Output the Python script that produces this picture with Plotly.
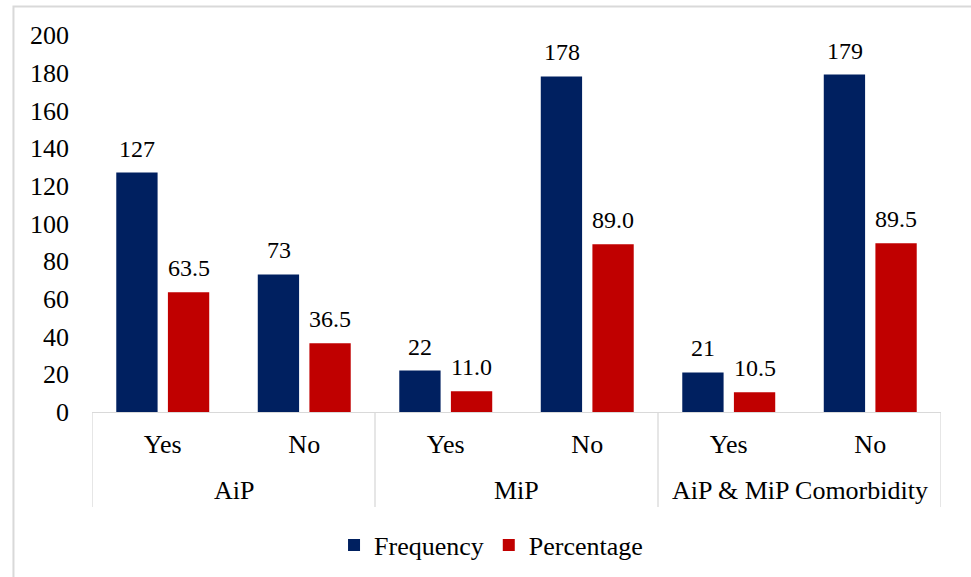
import plotly.graph_objects as go

groups = ["AiP", "AiP", "MiP", "MiP", "AiP & MiP Comorbidity", "AiP & MiP Comorbidity"]
answers = ["Yes", "No", "Yes", "No", "Yes", "No"]
frequency = [127, 73, 22, 178, 21, 179]
percentage = [63.5, 36.5, 11.0, 89.0, 10.5, 89.5]
y_ticks = [0, 20, 40, 60, 80, 100, 120, 140, 160, 180, 200]

FONT = '"Liberation Serif", "Times New Roman", Times, serif'
GRID = "#D9D9D9"
NAVY = "#002060"
RED = "#C00000"
AXIS_SIZE = 26
LABEL_SIZE = 24

cats = [f"{g} | {a}" for g, a in zip(groups, answers)]

fig = go.Figure()
fig.add_trace(go.Bar(x=cats, y=frequency, name="Frequency",
                     marker=dict(color=NAVY, line=dict(width=0))))
fig.add_trace(go.Bar(x=cats, y=percentage, name="Percentage",
                     marker=dict(color=RED, line=dict(width=0))))

annotations = []
# data labels
for c, v in zip(cats, frequency):
    annotations.append(dict(x=c, y=v, xref="x", yref="y", text=f"{v:d}", showarrow=False,
                            xanchor="center", yanchor="bottom", xshift=-25.5, yshift=9,
                            font=dict(family=FONT, size=LABEL_SIZE, color="#000000")))
for c, v in zip(cats, percentage):
    annotations.append(dict(x=c, y=v, xref="x", yref="y", text=f"{v:.1f}", showarrow=False,
                            xanchor="center", yanchor="bottom", xshift=26, yshift=9,
                            font=dict(family=FONT, size=LABEL_SIZE, color="#000000")))

# group labels and dividers
shapes = []
unique_groups = []
for g in groups:
    if g not in unique_groups:
        unique_groups.append(g)
bounds = []
for g in unique_groups:
    idx = [i for i, gg in enumerate(groups) if gg == g]
    lo, hi = min(idx) - 0.5, max(idx) + 0.5
    bounds.append((lo, hi))
    annotations.append(dict(x=(lo + hi) / 2, y=-0.2095, xref="x", yref="paper", text=g,
                            showarrow=False, xanchor="center", yanchor="middle",
                            font=dict(family=FONT, size=AXIS_SIZE, color="#000000")))
edges = sorted(set([b[0] for b in bounds] + [b[1] for b in bounds]))
for e in edges:
    shapes.append(dict(type="line", xref="x", yref="paper", x0=e, x1=e, y0=0, y1=-0.252,
                       line=dict(color=GRID, width=1.3)))

# outer chart border
shapes.append(dict(type="rect", xref="paper", yref="paper", x0=-0.0925, x1=1.06, y0=-0.47, y1=1.0756,
                   line=dict(color=GRID, width=2), fillcolor="rgba(0,0,0,0)", layer="below"))

fig.update_layout(
    width=971, height=577,
    margin=dict(l=92, r=30, t=35, b=165, autoexpand=False),
    paper_bgcolor="white", plot_bgcolor="white",
    font=dict(family=FONT, size=AXIS_SIZE, color="#000000"),
    barmode="group", bargap=0.27, bargroupgap=0.2,
    showlegend=True,
    legend=dict(orientation="h", x=0.47, xanchor="center", y=-0.353, yanchor="middle",
                font=dict(family=FONT, size=AXIS_SIZE, color="#000000"), itemwidth=30,
                traceorder="normal"),
    xaxis=dict(type="category", tickvals=cats, ticktext=answers, range=[-0.5, len(cats) - 0.5],
               showline=True, linecolor=GRID, linewidth=1.3, showgrid=False, zeroline=False,
               ticks="", ticklabelstandoff=9, automargin=False,
               tickfont=dict(family=FONT, size=AXIS_SIZE, color="#000000")),
    yaxis=dict(range=[0, 200], tickvals=y_ticks, showgrid=False, zeroline=False,
               showline=False, ticks="", ticklabelstandoff=22, automargin=False,
               tickfont=dict(family=FONT, size=AXIS_SIZE, color="#000000")),
    shapes=shapes,
    annotations=annotations,
)

fig.write_html("out.html", config={"displayModeBar": False},
               post_script="document.body.style.margin='0';")
